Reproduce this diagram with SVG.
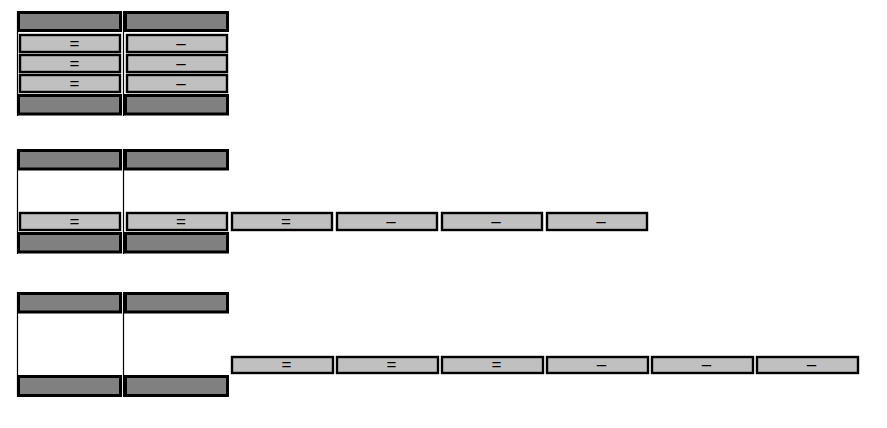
<svg xmlns="http://www.w3.org/2000/svg" width="887" height="428" viewBox="0 0 887 428">
<style>
.bg{fill:#ffffff}
.cont{stroke:#000;stroke-width:1.2;fill:none}
.dk{fill:#808080;stroke:#000;stroke-width:3}
.lt{fill:#c0c0c0;stroke:#000;stroke-width:2.4}
.t{font-family:"Liberation Sans",Arial,sans-serif;font-size:17px;fill:#000;text-anchor:middle}
</style>
<rect class="bg" x="0" y="0" width="887" height="428"/>

<!-- Section 1 -->
<g id="s1-col1">
<line class="cont" x1="17.5" y1="11" x2="17.5" y2="116"/>
<rect class="dk" x="18.5" y="12.5" width="102" height="18"/>
<g id="s1-c1-r1"><rect class="lt" x="20" y="35" width="100" height="17"/><text class="t" x="74.5" y="49">=</text></g>
<g id="s1-c1-r2"><rect class="lt" x="20" y="55" width="100" height="17"/><text class="t" x="74.5" y="69">=</text></g>
<g id="s1-c1-r3"><rect class="lt" x="20" y="75" width="100" height="17"/><text class="t" x="74.5" y="89">=</text></g>
<rect class="dk" x="18.5" y="95.5" width="102" height="18.5"/>
</g>
<g id="s1-col2">
<line class="cont" x1="123.5" y1="11" x2="123.5" y2="116"/>
<rect class="dk" x="125.5" y="12.5" width="102" height="18"/>
<g id="s1-c2-r1"><rect class="lt" x="127" y="35" width="100" height="17"/><text class="t" x="181" y="49">–</text></g>
<g id="s1-c2-r2"><rect class="lt" x="127" y="55" width="100" height="17"/><text class="t" x="181" y="69">–</text></g>
<g id="s1-c2-r3"><rect class="lt" x="127" y="75" width="100" height="17"/><text class="t" x="181" y="89">–</text></g>
<rect class="dk" x="125.5" y="95.5" width="102" height="18.5"/>
</g>

<!-- Section 2 -->
<g id="s2-col1">
<line class="cont" x1="17.5" y1="149" x2="17.5" y2="254"/>
<rect class="dk" x="18.5" y="150.5" width="102" height="18.5"/>
<g id="s2-c1-r1"><rect class="lt" x="20" y="213" width="100" height="17"/><text class="t" x="74.5" y="227">=</text></g>
<rect class="dk" x="18.5" y="233.5" width="102" height="18.5"/>
</g>
<g id="s2-col2">
<line class="cont" x1="123.5" y1="149" x2="123.5" y2="254"/>
<rect class="dk" x="125.5" y="150.5" width="102" height="18.5"/>
<g id="s2-c2-r1"><rect class="lt" x="127" y="213" width="100" height="17"/><text class="t" x="181" y="227">=</text></g>
<rect class="dk" x="125.5" y="233.5" width="102" height="18.5"/>
</g>
<g id="s2-row">
<g id="s2-i1"><rect class="lt" x="232" y="213" width="100" height="17"/><text class="t" x="286" y="227">=</text></g>
<g id="s2-i2"><rect class="lt" x="337" y="213" width="100" height="17"/><text class="t" x="391" y="227">–</text></g>
<g id="s2-i3"><rect class="lt" x="442" y="213" width="100" height="17"/><text class="t" x="496" y="227">–</text></g>
<g id="s2-i4"><rect class="lt" x="547" y="213" width="100" height="17"/><text class="t" x="601" y="227">–</text></g>
</g>

<!-- Section 3 -->
<g id="s3-col1">
<line class="cont" x1="17.5" y1="292" x2="17.5" y2="397"/>
<rect class="dk" x="18.5" y="293.5" width="102" height="18.5"/>
<rect class="dk" x="18.5" y="376.5" width="102" height="19"/>
</g>
<g id="s3-col2">
<line class="cont" x1="123.5" y1="292" x2="123.5" y2="397"/>
<rect class="dk" x="125.5" y="293.5" width="102" height="18.5"/>
<rect class="dk" x="125.5" y="376.5" width="102" height="19"/>
</g>
<g id="s3-row">
<g id="s3-i1"><rect class="lt" x="232" y="357" width="101" height="16"/><text class="t" x="286.5" y="370">=</text></g>
<g id="s3-i2"><rect class="lt" x="337" y="357" width="101" height="16"/><text class="t" x="391.5" y="370">=</text></g>
<g id="s3-i3"><rect class="lt" x="442" y="357" width="101" height="16"/><text class="t" x="496.5" y="370">=</text></g>
<g id="s3-i4"><rect class="lt" x="547" y="357" width="101" height="16"/><text class="t" x="601.5" y="370">–</text></g>
<g id="s3-i5"><rect class="lt" x="652" y="357" width="101" height="16"/><text class="t" x="706.5" y="370">–</text></g>
<g id="s3-i6"><rect class="lt" x="757" y="357" width="101" height="16"/><text class="t" x="811.5" y="370">–</text></g>
</g>
</svg>
